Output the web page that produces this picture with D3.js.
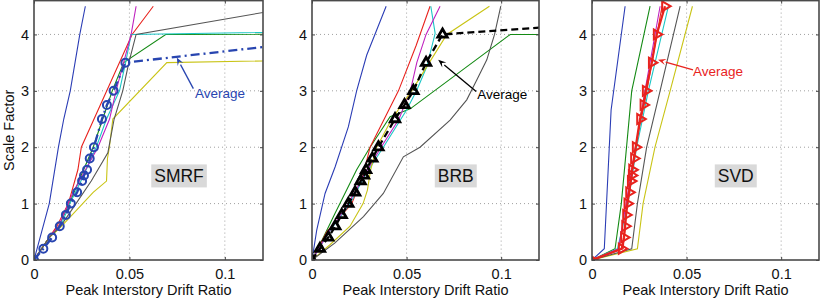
<!DOCTYPE html>
<html lang="en">
<head>
<meta charset="utf-8">
<title>Scale Factor vs Peak Interstory Drift</title>
<script src="https://cdn.jsdelivr.net/npm/d3@7/dist/d3.min.js"></script>
<style>
  body { margin: 0; background: #fff; }
  text { font-family: "Liberation Sans", Arial, Helvetica, sans-serif; }
</style>
</head>
<body>
<div id="bod"></div>
<script>
// scale factors where the averaged curves have markers
let avgSF = [0, 0.2, 0.4, 0.6, 0.8, 1, 1.2, 1.4, 1.5, 1.6, 1.8, 2, 2.5, 2.75, 3, 3.5, 4, 4.5]

// average drift per scale factor (SMRF collapses after 3.5, BRB after 4)
let smrfAvg = [0, 0.0049, 0.0095, 0.0135, 0.0167, 0.0193, 0.0226, 0.0252, 0.0262, 0.0278, 0.0292, 0.0314, 0.0356, 0.0382, 0.0417, 0.0479, 0.178]
let brbAvg  = [0, 0.0042, 0.0086, 0.0123, 0.0157, 0.0192, 0.0228, 0.0257, 0.0275, 0.0286, 0.0319, 0.0351, 0.0439, 0.0489, 0.0536, 0.0603, 0.069, 0.28]
let svdAvg  = [0, 0.0157, 0.0169, 0.0175, 0.018, 0.0187, 0.0196, 0.0205, 0.021, 0.0212, 0.0222, 0.0231, 0.0254, 0.0272, 0.0284, 0.0316, 0.0342, 0.0386]

// single records, [drift, scale factor]
let smrfBlue    = [[0,0],[0.004,0.5],[0.008,1],[0.0128,2],[0.0156,2.5],[0.019,3],[0.024,4],[0.0269,4.5]]
let smrfGreen   = [[0,0],[0.008,0.4],[0.013,0.6],[0.0185,1],[0.026,1.6],[0.031,2],[0.034,2.3],[0.036,2.5],[0.041,3],[0.047,3.5],[0.069,4],[0.9,4.04]]
let smrfRed     = [[0,0],[0.012,0.6],[0.018,1],[0.023,1.6],[0.0248,2],[0.0514,4],[0.0625,4.5]]
let smrfCyan    = [[0,0],[0.008,0.4],[0.014,0.6],[0.0188,1],[0.026,1.5],[0.0326,2],[0.038,2.5],[0.0448,3],[0.048,3.5],[0.0509,4],[1.0,4.5]]
let smrfMagenta = [[0,0],[0.008,0.4],[0.013,0.6],[0.018,1],[0.0205,1.2],[0.027,1.6],[0.0335,2],[0.0396,2.5],[0.043,3],[0.0509,4],[0.0535,4.5]]
let smrfYellow  = [[0,0],[0.008,0.4],[0.013,0.55],[0.02,0.8],[0.031,1.2],[0.038,1.4],[0.0385,1.8],[0.0395,2],[0.0413,2.5],[0.0696,3.5],[0.9,4]]
let smrfGray    = [[0,0],[0.008,0.4],[0.014,0.6],[0.022,1],[0.03,1.4],[0.0387,1.9],[0.042,2.5],[0.0465,3],[0.0497,3.5],[0.0535,4],[0.139,4.5]]

let brbBlue    = [[0,0],[0.0025,0.53],[0.0069,1.18],[0.0122,1.65],[0.0192,2.36],[0.0236,3],[0.0289,3.63],[0.0342,4.08],[0.0392,4.5]]
let brbGreen   = [[0,0],[0.006,0.4],[0.0122,0.83],[0.0183,1.24],[0.0236,1.6],[0.0307,2],[0.0413,2.54],[0.0519,2.68],[0.1048,4],[1.0,4]]
let brbRed     = [[0,0],[0.0078,0.5],[0.021,1],[0.027,1.5],[0.0307,2],[0.0457,3],[0.055,3.8],[0.0624,4.5]]
let brbCyan    = [[0,0],[0.009,0.5],[0.0201,1],[0.028,1.5],[0.0377,2],[0.05,2.66],[0.0554,3.01],[0.0607,3.43],[0.0651,4.02],[0.0628,4.5]]
let brbMagenta = [[0,0],[0.009,0.5],[0.0192,1],[0.0275,1.5],[0.033,1.8],[0.0365,2],[0.046,2.5],[0.052,3],[0.0554,3.5],[0.0603,4],[0.0677,4.5]]
let brbYellow  = [[0,0],[0.0095,0.27],[0.0201,0.6],[0.027,1],[0.0293,1.24],[0.031,1.6],[0.0342,2],[0.0422,2.5],[0.0527,3],[0.062,3.5],[0.0713,4],[0.0938,4.5]]
let brbGray    = [[0,0],[0.012,0.3],[0.0272,0.77],[0.0377,1.18],[0.0483,1.83],[0.0571,2],[0.073,2.48],[0.0818,2.84],[0.0871,3.19],[0.0924,3.55],[0.0965,4],[0.0998,4.5]]

let svdBlue    = [[0,0],[0.0065,0.2],[0.0101,2.66],[0.0175,4.5]]
let svdGreen   = [[0,0],[0.0122,0.2],[0.0155,1],[0.021,3],[0.0307,4.5]]
let svdRed     = [[0,0],[0.0165,0.2],[0.0185,1],[0.023,2],[0.029,3],[0.037,4.5]]
let svdCyan    = [[0,0],[0.0135,0.2],[0.019,1],[0.0236,2],[0.0298,3],[0.0404,4.5]]
let svdMagenta = [[0,0],[0.014,0.2],[0.018,1],[0.023,2],[0.028,3],[0.036,4.5]]
let svdYellow  = [[0,0],[0.024,0.2],[0.027,1],[0.0333,2],[0.0413,3],[0.0531,4.5]]
let svdGray    = [[0,0],[0.021,0.2],[0.024,1],[0.0289,2],[0.036,3],[0.0466,4.5]]

let recordColors = ["#2b3db5", "#148a14", "#e8231e", "#1cc6c6", "#bf22bf", "#c9c416", "#555555"]

let xTicks = [0, 0.05, 0.1]
let yTicks = [0, 1, 2, 3, 4]

let panels = [
  { name: "SMRF", left: 34, right: 263, records: [smrfBlue, smrfGreen, smrfRed, smrfCyan, smrfMagenta, smrfYellow, smrfGray],
    avg: smrfAvg, avgColor: "#2845b0", dash: "9,4,2,4", marker: "circle", markCount: 16,
    note: { tip: [0.0748, 3.59], tail: [0.0835, 3.04], text: [0.0844, 2.88] } },
  { name: "BRB", left: 312, right: 539, records: [brbBlue, brbGreen, brbRed, brbCyan, brbMagenta, brbYellow, brbGray],
    avg: brbAvg, avgColor: "#000000", dash: "7,4", marker: "up", markCount: 17,
    note: { tip: [0.0667, 3.55], tail: [0.0868, 2.99], text: [0.0873, 2.85] } },
  { name: "SVD", left: 592, right: 819, records: [svdBlue, svdGreen, svdRed, svdCyan, svdMagenta, svdYellow, svdGray],
    avg: svdAvg, avgColor: "#e8231e", dash: null, marker: "right", markCount: 18,
    note: { tip: [0.0349, 3.55], tail: [0.0534, 3.37], text: [0.0534, 3.27] } }
]

let width = 822
let height = 300
let plotTop = 0.6
let plotBottom = 260

let svg = d3.select("#bod").append("svg").attr("width", width).attr("height", height)

let yScale = d3.scaleLinear().domain([0, 4.6]).range([plotBottom, plotTop])

svg.append("text")
   .attr("transform", "translate(13.5," + ((plotTop + plotBottom) / 2) + ") rotate(-90)")
   .attr("text-anchor", "middle")
   .attr("font-size", 14.5)
   .attr("fill", "#111")
   .text("Scale Factor")

panels.forEach((p, pi) => {
  let xScale = d3.scaleLinear().domain([0, 0.12]).range([p.left, p.right])
  let g = svg.append("g")

  g.append("clipPath").attr("id", "clip" + pi)
   .append("rect").attr("x", p.left).attr("y", plotTop).attr("width", p.right - p.left).attr("height", plotBottom - plotTop)

  // dotted grid
  g.selectAll(".gx").data(xTicks.slice(1)).enter().append("line")
   .attr("x1", d => xScale(d)).attr("x2", d => xScale(d)).attr("y1", plotTop).attr("y2", plotBottom)
   .attr("stroke", "#a0a0a0").attr("stroke-dasharray", "1,3")
  g.selectAll(".gy").data(yTicks.slice(1)).enter().append("line")
   .attr("x1", p.left).attr("x2", p.right).attr("y1", d => yScale(d)).attr("y2", d => yScale(d))
   .attr("stroke", "#a0a0a0").attr("stroke-dasharray", "1,3")

  // label box
  let lx = xScale(0.076), ly = yScale(1.5)
  let lab = g.append("text").attr("x", lx).attr("y", ly).attr("dy", "0.36em")
   .attr("text-anchor", "middle").attr("font-size", 17.5).attr("fill", "#111").text(p.name)
  let bb = lab.node().getBBox()
  g.insert("rect", "text").attr("x", bb.x - 3).attr("y", ly - 11).attr("width", bb.width + 6).attr("height", 23)
   .attr("fill", "#d9d9d9")

  let plot = g.append("g").attr("clip-path", "url(#clip" + pi + ")")
  let line = d3.line().x(d => xScale(d[0])).y(d => yScale(d[1]))

  p.records.forEach((r, ri) => {
    plot.append("path").datum(r).attr("d", line)
        .attr("fill", "none").attr("stroke", recordColors[ri]).attr("stroke-width", 1.1)
  })

  let avgPts = p.avg.map((v, i) => [v, avgSF[i]])
  let avgPath = plot.append("path").datum(avgPts).attr("d", line)
      .attr("fill", "none").attr("stroke", p.avgColor).attr("stroke-width", 2.3)
  if (p.dash) avgPath.attr("stroke-dasharray", p.dash)

  let marks = plot.selectAll(".mk").data(avgPts.slice(0, p.markCount)).enter()
  if (p.marker == "circle") {
    marks.append("circle").attr("cx", d => xScale(d[0])).attr("cy", d => yScale(d[1])).attr("r", 4)
         .attr("fill", "none").attr("stroke", p.avgColor).attr("stroke-width", 2)
  } else {
    let sym = d3.symbol().type(d3.symbolTriangle).size(p.marker == "up" ? 38 : 42)
    let rot = p.marker == "right" ? 90 : 0
    marks.append("path").attr("d", sym)
         .attr("transform", d => "translate(" + xScale(d[0]) + "," + yScale(d[1]) + ") rotate(" + rot + ")")
         .attr("fill", "none").attr("stroke", p.avgColor).attr("stroke-width", p.marker == "up" ? 2.8 : 2)
  }

  // "Average" arrow
  let n = p.note
  let x1 = xScale(n.tail[0]), y1 = yScale(n.tail[1]), x2 = xScale(n.tip[0]), y2 = yScale(n.tip[1])
  let ang = Math.atan2(y2 - y1, x2 - x1)
  let hl = 8, hw = 3.2
  let bx = x2 - hl * Math.cos(ang), by = y2 - hl * Math.sin(ang)
  g.append("line").attr("x1", x1).attr("y1", y1).attr("x2", bx).attr("y2", by)
   .attr("stroke", p.avgColor).attr("stroke-width", 1.3)
  g.append("path")
   .attr("d", "M" + x2 + "," + y2 +
              "L" + (bx + hw * Math.sin(ang)) + "," + (by - hw * Math.cos(ang)) +
              "L" + (x2 - 0.6 * hl * Math.cos(ang)) + "," + (y2 - 0.6 * hl * Math.sin(ang)) +
              "L" + (bx - hw * Math.sin(ang)) + "," + (by + hw * Math.cos(ang)) + "Z")
   .attr("fill", p.avgColor)
  g.append("text").attr("x", xScale(n.text[0])).attr("y", yScale(n.text[1]))
   .attr("font-size", 13.5).attr("fill", p.avgColor).text("Average")

  // axes, ticks pointing inward like matlab
  let xAxis = d3.axisBottom(xScale).tickValues(xTicks).tickSize(-3).tickPadding(9)
                .tickFormat(d => d == 0 ? "0" : d == 0.05 ? "0.05" : "0.1")
  let yAxis = d3.axisLeft(yScale).tickValues(yTicks).tickSize(-3).tickPadding(5).tickFormat(d3.format("d"))

  let gx = g.append("g").attr("transform", "translate(0," + plotBottom + ")").call(xAxis)
  let gy = g.append("g").attr("transform", "translate(" + p.left + ",0)").call(yAxis)
  let gt = g.append("g").attr("transform", "translate(0," + plotTop + ")")
            .call(d3.axisTop(xScale).tickValues(xTicks).tickSize(-3).tickFormat(""))
  let gr = g.append("g").attr("transform", "translate(" + p.right + ",0)")
            .call(d3.axisRight(yScale).tickValues(yTicks).tickSize(-3).tickFormat(""))
  ;[gx, gy, gt, gr].forEach(a => {
    a.select(".domain").remove()
    a.selectAll("line").attr("stroke", "#444")
    a.selectAll("text").attr("font-size", 14.5).attr("fill", "#111")
      .attr("font-family", "'Liberation Sans', Arial, Helvetica, sans-serif")
  })

  g.append("rect").attr("x", p.left).attr("y", plotTop).attr("width", p.right - p.left).attr("height", plotBottom - plotTop)
   .attr("fill", "none").attr("stroke", "#4a4a4a").attr("stroke-width", 1.6)

  g.append("text").attr("x", (p.left + p.right) / 2).attr("y", 295)
   .attr("text-anchor", "middle").attr("font-size", 14.5).attr("fill", "#111")
   .text("Peak Interstory Drift Ratio")
})
</script>
</body>
</html>
